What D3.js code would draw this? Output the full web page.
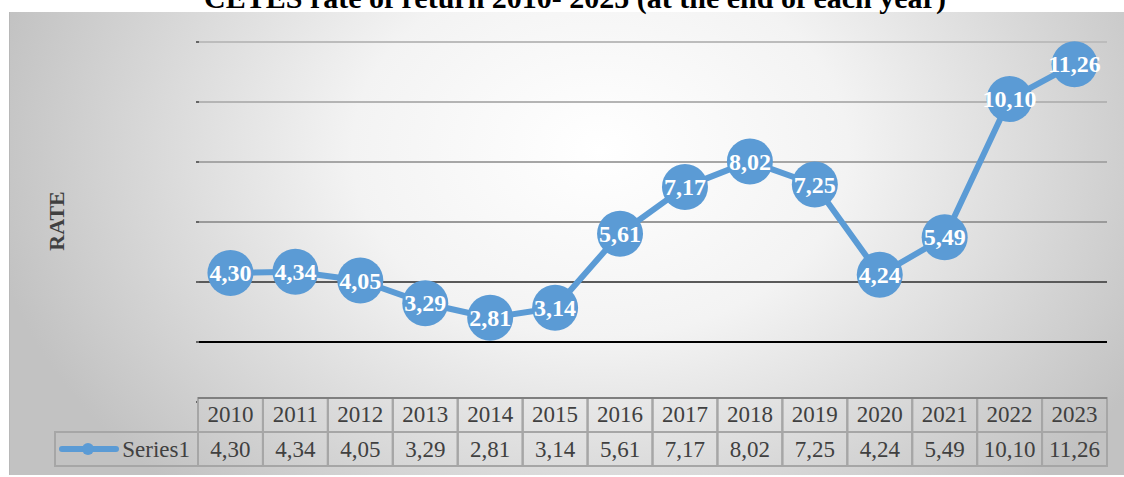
<!DOCTYPE html>
<html>
<head>
<meta charset="utf-8">
<script src="https://cdn.jsdelivr.net/npm/d3@7"></script>
<style>
  body { margin: 0; background: #fff; }
  svg { display: block; font-family: "Liberation Serif", "Times New Roman", serif; }
</style>
</head>
<body>
<div id="chart"></div>
<script>
// data
var years = ["2010","2011","2012","2013","2014","2015","2016","2017","2018","2019","2020","2021","2022","2023"];
var rates = [4.30, 4.34, 4.05, 3.29, 2.81, 3.14, 5.61, 7.17, 8.02, 7.25, 4.24, 5.49, 10.10, 11.26];
var gridValues = [0, 2, 4, 6, 8, 10, 12];
var seriesName = "Series1";

var W = 1124, H = 477;
var fmt = function (v) { return d3.format(".2f")(v).replace(".", ","); };

var svg = d3.select("#chart").append("svg").attr("width", W).attr("height", H);

var defs = svg.append("defs");
var grad = defs.append("radialGradient")
  .attr("id", "bg")
  .attr("gradientUnits", "userSpaceOnUse")
  .attr("cx", 600).attr("cy", 150).attr("r", 620)
  .attr("gradientTransform", "translate(0,150) scale(1,0.75) translate(0,-150)");
grad.append("stop").attr("offset", "0").attr("stop-color", "#ffffff");
grad.append("stop").attr("offset", "0.4").attr("stop-color", "#f3f3f3");
grad.append("stop").attr("offset", "1").attr("stop-color", "#c2c2c2");

// chart area
svg.append("rect")
  .attr("x", 9).attr("y", 12).attr("width", W - 9).attr("height", 463)
  .attr("fill", "url(#bg)");
svg.append("line").attr("x1", 9.5).attr("x2", 9.5).attr("y1", 12).attr("y2", 475)
  .attr("stroke", "#b8b8b8").attr("stroke-width", 1);

// title (top half cut off in the original)
svg.append("text")
  .attr("x", 575).attr("y", 8)
  .attr("text-anchor", "middle")
  .attr("font-size", 30).attr("font-weight", "bold")
  .attr("fill", "#000")
  .text("CETES rate of return 2010- 2025 (at the end of each year)");

var x = d3.scaleBand().domain(years).range([198, 1107]);
var y = d3.scaleLinear().domain([0, 12]).range([402, 42]);

// gridlines
var gridColor = { 2: "#000000", 4: "#5a5a5a", 6: "#9a9a9a", 8: "#a6a6a6", 10: "#b4b4b4", 12: "#bcbcbc" };
svg.append("g").selectAll("line")
  .data(gridValues.filter(function (d) { return d > 0; }))
  .join("line")
  .attr("x1", 198).attr("x2", 1107)
  .attr("y1", function (d) { return y(d); })
  .attr("y2", function (d) { return y(d); })
  .attr("stroke", function (d) { return gridColor[d]; })
  .attr("stroke-width", 2);

// small axis ticks on the left
svg.append("g").selectAll("line")
  .data(gridValues)
  .join("line")
  .attr("x1", 196).attr("x2", 199)
  .attr("y1", function (d) { return y(d); })
  .attr("y2", function (d) { return y(d); })
  .attr("stroke", "#666").attr("stroke-width", 2);

// axis title
svg.append("text")
  .attr("transform", "translate(64,221) rotate(-90)")
  .attr("text-anchor", "middle")
  .attr("font-size", 22).attr("font-weight", "bold")
  .attr("fill", "#404040")
  .text("RATE");

// line + markers
var blue = "#5b9bd5";
var line = d3.line()
  .x(function (d, i) { return x(years[i]) + x.bandwidth() / 2; })
  .y(function (d) { return y(d); });

svg.append("path")
  .datum(rates)
  .attr("d", line)
  .attr("fill", "none")
  .attr("stroke", blue)
  .attr("stroke-width", 6)
  .attr("stroke-linejoin", "round");

var pts = svg.append("g").selectAll("g")
  .data(rates)
  .join("g")
  .attr("transform", function (d, i) {
    return "translate(" + (x(years[i]) + x.bandwidth() / 2) + "," + y(d) + ")";
  });
pts.append("circle").attr("r", 23).attr("fill", blue);
pts.append("text")
  .attr("text-anchor", "middle")
  .attr("dy", "0.34em")
  .attr("font-size", 24).attr("font-weight", "bold")
  .attr("fill", "#fff")
  .text(function (d) { return fmt(d); });

// data table
var hdrTop = 398, hdrH = 34, valH = 34;
var valTop = hdrTop + hdrH;
var tbl = svg.append("g");
var borderColor = "#a6a6a6";

// header row
tbl.selectAll("rect.h")
  .data(years)
  .join("rect")
  .attr("class", "h")
  .attr("x", function (d) { return x(d); })
  .attr("y", hdrTop).attr("width", x.bandwidth()).attr("height", hdrH)
  .attr("fill", "none").attr("stroke", borderColor).attr("stroke-width", 2);
tbl.selectAll("text.h")
  .data(years)
  .join("text")
  .attr("class", "h")
  .attr("x", function (d) { return x(d) + x.bandwidth() / 2; })
  .attr("y", hdrTop + hdrH / 2 - 1)
  .attr("dy", "0.35em")
  .attr("text-anchor", "middle")
  .attr("font-size", 23).attr("fill", "#404040")
  .text(function (d) { return d; });

// value row
tbl.selectAll("rect.v")
  .data(years)
  .join("rect")
  .attr("class", "v")
  .attr("x", function (d) { return x(d); })
  .attr("y", valTop).attr("width", x.bandwidth()).attr("height", valH)
  .attr("fill", "none").attr("stroke", borderColor).attr("stroke-width", 2);
tbl.selectAll("text.v")
  .data(rates)
  .join("text")
  .attr("class", "v")
  .attr("x", function (d, i) { return x(years[i]) + x.bandwidth() / 2; })
  .attr("y", valTop + valH / 2)
  .attr("dy", "0.35em")
  .attr("text-anchor", "middle")
  .attr("font-size", 23).attr("fill", "#404040")
  .text(function (d) { return fmt(d); });

// top border of table darker
tbl.append("line")
  .attr("x1", 198).attr("x2", 1107).attr("y1", hdrTop).attr("y2", hdrTop)
  .attr("stroke", "#7f7f7f").attr("stroke-width", 2);

// legend cell
tbl.append("rect")
  .attr("x", 55).attr("y", valTop).attr("width", 143).attr("height", valH)
  .attr("fill", "none").attr("stroke", borderColor).attr("stroke-width", 2);
tbl.append("line")
  .attr("x1", 62).attr("x2", 116)
  .attr("y1", valTop + valH / 2).attr("y2", valTop + valH / 2)
  .attr("stroke", blue).attr("stroke-width", 6).attr("stroke-linecap", "round");
tbl.append("circle")
  .attr("cx", 88).attr("cy", valTop + valH / 2).attr("r", 6).attr("fill", blue);
tbl.append("text")
  .attr("x", 190).attr("y", valTop + valH / 2).attr("dy", "0.35em")
  .attr("text-anchor", "end")
  .attr("font-size", 23).attr("fill", "#404040")
  .text(seriesName);
</script>
</body>
</html>
